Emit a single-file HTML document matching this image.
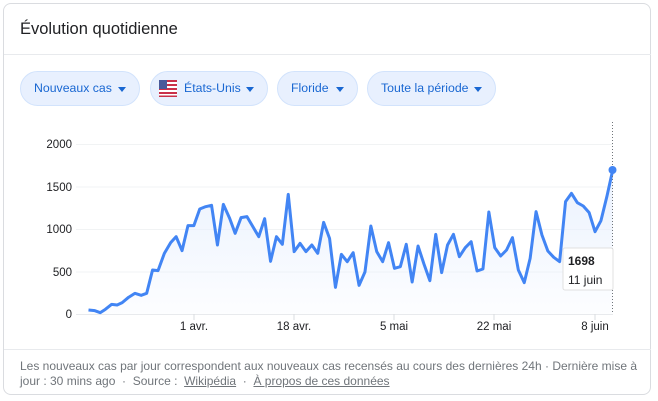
<!DOCTYPE html>
<html><head><meta charset="utf-8"><style>
body{margin:0;width:658px;height:401px;background:#fff;font-family:"Liberation Sans",Arial,sans-serif;position:relative;overflow:hidden}
.card{position:absolute;left:3px;top:3px;width:648px;height:392px;border:1px solid #dadce0;border-radius:8px;box-sizing:border-box}
.title{position:absolute;left:20px;top:20px;font-size:16.5px;color:#202124}
.hr{position:absolute;left:4px;width:647px;height:1px;background:#e8eaed}
.chip{position:absolute;top:71px;height:35px;border:1px solid #d2e3fc;background:#e8f0fe;border-radius:18px;box-sizing:border-box;color:#1967d2;font-size:12.3px;line-height:33px;padding-left:13px}
.chip:after{content:"";position:absolute;right:13px;top:15px;border-left:4.5px solid transparent;border-right:4.5px solid transparent;border-top:5px solid #1967d2}
.yl{position:absolute;font-size:11.5px;color:#202124;right:586px;text-align:right}
.xl{position:absolute;top:321px;font-size:11.5px;color:#202124;transform:translateX(-50%)}
.foot{position:absolute;left:20px;top:359px;font-size:12px;color:#70757a;line-height:15px;width:620px}
.foot u{color:#70757a}
</style></head><body>
<div class="card"></div>
<div class="title">Évolution quotidienne</div>
<div class="hr" style="top:54px"></div>
<div class="chip" style="left:20px;width:120px">Nouveaux cas</div>
<div class="chip" style="left:150px;width:118px;padding-left:33px">États-Unis
<svg style="position:absolute;left:8px;top:8px" width="18" height="17" viewBox="0 0 18 17"><rect width="18" height="17" rx="2" fill="#fff"/><g fill="#c9304a"><rect y="0" width="18" height="2"/><rect y="4" width="18" height="2"/><rect y="8" width="18" height="2"/><rect y="12" width="18" height="2"/><rect y="15.5" width="18" height="1.5"/></g><rect width="8" height="9" fill="#4a5a9a"/></svg></div>
<div class="chip" style="left:277px;width:81px">Floride</div>
<div class="chip" style="left:367px;width:129px">Toute la période</div>
<div class="yl" style="top:139px">2000</div>
<div class="yl" style="top:182px">1500</div>
<div class="yl" style="top:224px">1000</div>
<div class="yl" style="top:267px">500</div>
<div class="yl" style="top:309px">0</div>
<svg style="position:absolute;left:0;top:0" width="658" height="401">
<defs><linearGradient id="g" x1="0" y1="0" x2="0" y2="1"><stop offset="0" stop-color="#e8f0fe" stop-opacity=".9"/><stop offset="1" stop-color="#e8f0fe" stop-opacity=".1"/></linearGradient></defs>
<g stroke="#f1f3f4" stroke-width="1"><line x1="76" x2="613" y1="144.5" y2="144.5"/><line x1="76" x2="613" y1="187" y2="187"/><line x1="76" x2="613" y1="229.5" y2="229.5"/><line x1="76" x2="613" y1="272" y2="272"/></g>
<line x1="76" x2="613" y1="314.5" y2="314.5" stroke="#e8eaed"/>
<g stroke="#dadce0"><line x1="194" x2="194" y1="314" y2="320"/><line x1="294" x2="294" y1="314" y2="320"/><line x1="394" x2="394" y1="314" y2="320"/><line x1="494" x2="494" y1="314" y2="320"/><line x1="595" x2="595" y1="314" y2="320"/></g>
<g transform="translate(0,60) scale(0.42142,0.33333)">
<polygon fill="url(#g)" points="210,762 210,750 225,752 238,758 250,748 265,733 278,735 290,728 305,712 320,700 335,706 348,700 362,630 375,632 390,580 405,548 418,530 432,572 446,497 460,497 474,447 488,440 502,436 516,555 530,433 545,475 558,520 572,473 586,470 600,500 614,530 628,476 642,604 656,530 670,553 684,403 698,575 712,550 726,575 740,555 754,580 768,487 782,535 796,682 810,583 824,605 838,578 852,676 866,636 880,498 894,575 908,605 922,548 936,625 950,620 964,553 978,666 992,558 1006,612 1020,662 1034,523 1048,638 1062,555 1076,523 1090,590 1104,563 1118,545 1132,633 1146,627 1160,456 1174,563 1188,588 1202,570 1216,533 1230,630 1244,668 1258,595 1272,455 1286,525 1300,573 1314,592 1328,605 1342,425 1356,400 1370,428 1384,438 1398,458 1412,515 1426,482 1440,410 1454,330 1454,762"/>
<polyline fill="none" stroke="#4285f4" stroke-width="3" stroke-linejoin="round" vector-effect="non-scaling-stroke" points="210,750 225,752 238,758 250,748 265,733 278,735 290,728 305,712 320,700 335,706 348,700 362,630 375,632 390,580 405,548 418,530 432,572 446,497 460,497 474,447 488,440 502,436 516,555 530,433 545,475 558,520 572,473 586,470 600,500 614,530 628,476 642,604 656,530 670,553 684,403 698,575 712,550 726,575 740,555 754,580 768,487 782,535 796,682 810,583 824,605 838,578 852,676 866,636 880,498 894,575 908,605 922,548 936,625 950,620 964,553 978,666 992,558 1006,612 1020,662 1034,523 1048,638 1062,555 1076,523 1090,590 1104,563 1118,545 1132,633 1146,627 1160,456 1174,563 1188,588 1202,570 1216,533 1230,630 1244,668 1258,595 1272,455 1286,525 1300,573 1314,592 1328,605 1342,425 1356,400 1370,428 1384,438 1398,458 1412,515 1426,482 1440,410 1454,330"/>
</g>
<line x1="612.5" x2="612.5" y1="122" y2="314" stroke="#70757a" stroke-dasharray="1,2"/>
<circle cx="612.5" cy="170" r="4" fill="#4285f4"/>
<rect x="563" y="248" width="50" height="42" fill="#fff" stroke="#e0e0e0" rx="2"/>
<text x="568" y="265" font-size="12" font-weight="bold" fill="#202124" font-family="Liberation Sans,sans-serif">1698</text>
<text x="568" y="284" font-size="12" fill="#202124" font-family="Liberation Sans,sans-serif">11 juin</text>
</svg>
<div class="xl" style="left:194px">1 avr.</div>
<div class="xl" style="left:294px">18 avr.</div>
<div class="xl" style="left:394px">5 mai</div>
<div class="xl" style="left:494px">22 mai</div>
<div class="xl" style="left:595px">8 juin</div>
<div class="hr" style="top:349px"></div>
<div class="foot">Les nouveaux cas par jour correspondent aux nouveaux cas recensés au cours des dernières 24h · Dernière mise à jour : 30 mins ago &nbsp;· &nbsp;Source : &nbsp;<u>Wikipédia</u> &nbsp;· &nbsp;<u>À propos de ces données</u></div>
</body></html>
